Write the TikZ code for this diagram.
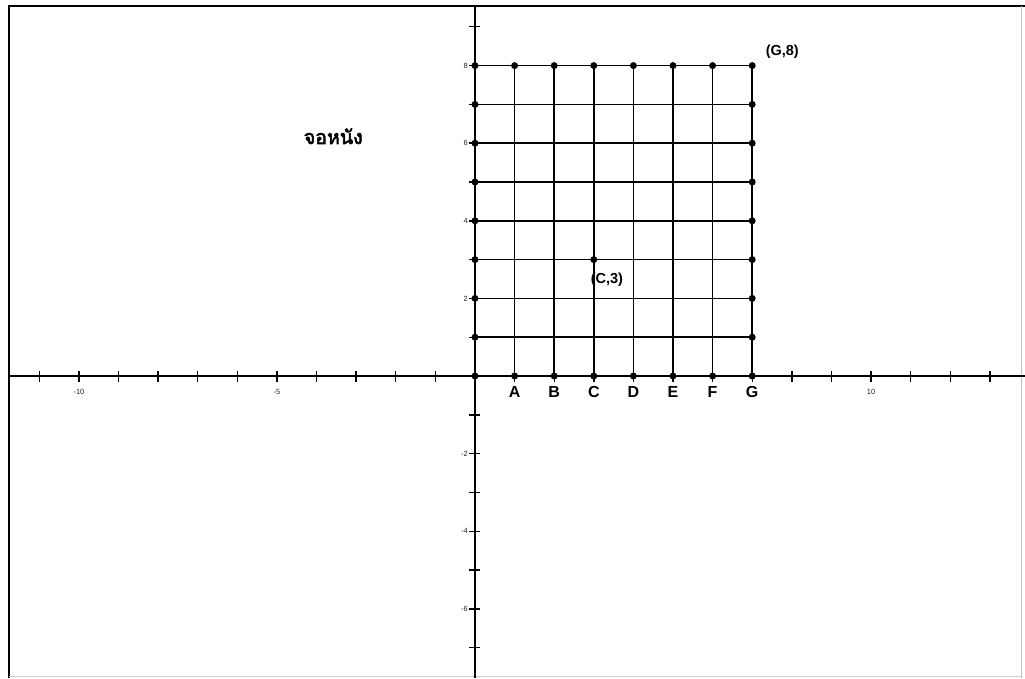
\documentclass[tikz,border=0pt]{standalone}
\usepackage{fontspec}
\setmainfont{Liberation Sans}
\newfontfamily\thaifont[Script=Thai,FakeBold=3]{Loma}
\begin{document}
\begin{tikzpicture}[x=39.6pt,y=38.8pt,
  axisline/.style={line width=2pt},
  gridline/.style={line width=1.6pt},
  tickmark/.style={line width=1.4pt},
  dot/.style={circle,fill=black,inner sep=0pt,minimum size=7pt},
  ticklab/.style={font=\fontsize{7.5}{8}\selectfont, text=black!85, inner sep=0pt},
  letter/.style={font=\fontsize{16}{17}\selectfont\bfseries, inner sep=0pt},
  ptlab/.style={font=\fontsize{14.5}{16}\selectfont\bfseries, inner sep=0pt}]
\useasboundingbox (-475pt,-302pt) rectangle (550pt,376pt);
% frame
\draw[line width=2.8pt] (-466pt,-302pt) -- (-466pt,370pt) -- (550pt,370pt);
\draw[black!25, line width=0.8pt] (546pt,370pt) -- (546pt,-302pt);
\draw[black!20, line width=0.8pt] (-466pt,-300pt) -- (546pt,-300pt);
% axes
\coordinate (xl) at (-466pt,0);
\coordinate (xr) at (550pt,0);
\coordinate (yt) at (0,370pt);
\coordinate (yb) at (0,-302pt);
\draw[axisline] (xl) -- (xr);
\draw[axisline] (yt) -- (yb);
\foreach \i in {-11,...,13} \draw[tickmark] ([yshift=-5.5pt]\i,0) -- ([yshift=5.5pt]\i,0);
\foreach \j in {-7,...,9} \draw[tickmark] ([xshift=-5.5pt]0,\j) -- ([xshift=5.5pt]0,\j);
% tick labels
\foreach \i in {-10,-5,10} \node[ticklab] (tx\i) at ([yshift=-16pt]\i,0) {\i};
\foreach \j in {8,6,4,2,-2,-4,-6} \node[ticklab,anchor=east] (ty\j) at ([xshift=-7pt]0,\j) {\j};
% grid
\foreach \i in {1,...,7} \draw[gridline] (\i,0) -- (\i,8);
\foreach \j in {1,...,8} \draw[gridline] (0,\j) -- (7,\j);
% dots
\foreach \i in {0,...,7} {\node[dot] (b\i) at (\i,0) {}; \node[dot] (t\i) at (\i,8) {};}
\foreach \j in {1,...,7} {\node[dot] (l\j) at (0,\j) {}; \node[dot] (r\j) at (7,\j) {};}
\node[dot] (c3) at (3,3) {};
% letters
\foreach \L [count=\i] in {A,B,C,D,E,F,G} \node[letter] (lab\L) at ([yshift=-16pt]\i,0) {\L};
\node[ptlab] (g8) at (7.76,8.35) {(G,8)};
\node[ptlab] (c3lab) at (3.33,2.47) {(C,3)};
\node[font=\thaifont\fontsize{19.5}{22}\selectfont] (screen) at (-3.58,6.18) {จอหนัง};
\end{tikzpicture}
\end{document}
